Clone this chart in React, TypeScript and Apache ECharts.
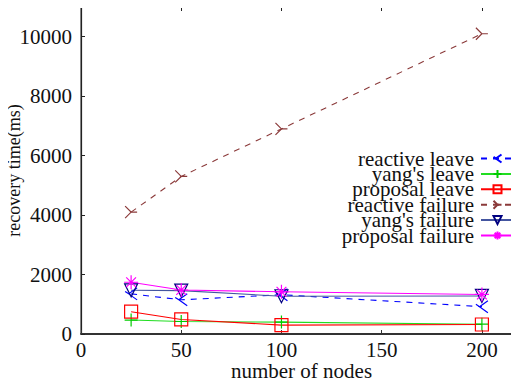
import React, { useEffect, useRef } from "react";
import * as echarts from "echarts";

const nodes = [25, 50, 100, 200];
const reactiveLeave = [1350, 1150, 1320, 920];
const yangsLeave = [470, 420, 400, 330];
const proposalLeave = [750, 490, 300, 320];
const reactiveFailure = [4100, 5300, 6900, 10100];
const yangsFailure = [1470, 1460, 1270, 1280];
const proposalFailure = [1740, 1480, 1420, 1330];

const seriesNames = [
  "reactive leave",
  "yang's leave",
  "proposal leave",
  "reactive failure",
  "yang's failure",
  "proposal failure",
];

const FONT = "Liberation Serif";

export default function App() {
  const ref = useRef<HTMLDivElement>(null);
  useEffect(() => {
    if (!ref.current) return;
    const chart = echarts.init(ref.current, null, { renderer: "svg" });
    const pair = (ys: number[]) => nodes.map((x, i) => [x, ys[i]]);
    const clear = "rgba(255,255,255,0)";
    const mk = (
      name: string,
      ys: number[],
      lineColor: string,
      markColor: string,
      symbol: string,
      size: number,
      dashed: boolean,
      rotate = 0
    ) => ({
      name,
      type: "line",
      data: pair(ys),
      symbol,
      symbolSize: size,
      symbolRotate: rotate,
      symbolKeepAspect: true,
      showAllSymbol: true,
      lineStyle: { color: lineColor, width: 1.1, type: dashed ? [6, 6] : "solid" },
      itemStyle: { color: clear, borderColor: markColor, borderWidth: 1.2 },
      emphasis: { disabled: true },
    });
    const labelStyle = {
      showMaxLabel: false,
      fontFamily: FONT,
      fontSize: 21,
      color: "#111",
      formatter: (v: number) => "{a|" + String(v) + "}",
      rich: { a: { fontFamily: FONT, fontSize: 21, color: "#111" } },
    };
    chart.setOption({
      animation: false,
      backgroundColor: "#ffffff",
      textStyle: { fontFamily: FONT },
      grid: {
        left: 81,
        top: 7,
        right: -3,
        bottom: 52,
        containLabel: false,
        outerBoundsMode: "none",
        show: true,
        borderColor: "#222",
        borderWidth: 1,
      },
      legend: {
        orient: "vertical",
        right: 4,
        top: 148,
        align: "right",
        padding: 0,
        itemGap: -5.6,
        itemWidth: 33,
        itemHeight: 10,
        data: seriesNames,
        textStyle: {
          fontFamily: FONT,
          fontSize: 21,
          color: "#111",
          padding: [0, 2, 0, 0],
        },
      },
      xAxis: [
        {
          type: "value",
          min: 0,
          max: 220,
          interval: 50,
          name: "number of nodes",
          nameLocation: "middle",
          nameGap: 26,
          nameMoveOverlap: false,
          nameTextStyle: { fontFamily: FONT, fontSize: 21, color: "#111" },
          axisLine: { lineStyle: { color: "#333", width: 2 } },
          axisTick: { inside: true, length: 4, lineStyle: { color: "#333" } },
          axisLabel: { ...labelStyle, margin: 5 },
          splitLine: { show: false },
        },
        {
          type: "value",
          position: "top",
          min: 0,
          max: 220,
          interval: 50,
          axisLine: { lineStyle: { color: "#222", width: 1 } },
          axisTick: { inside: true, length: 4, lineStyle: { color: "#222" } },
          axisLabel: { show: false },
          splitLine: { show: false },
        },
      ],
      yAxis: {
        type: "value",
        min: 0,
        max: 11000,
        interval: 2000,
        name: "recovery time(ms)",
        nameLocation: "middle",
        nameGap: 58,
        nameMoveOverlap: false,
        nameTextStyle: { fontFamily: FONT, fontSize: 18, color: "#111" },
        axisLine: { show: true, lineStyle: { color: "#222", width: 1.2 } },
        axisTick: { inside: true, length: 4, lineStyle: { color: "#222" } },
        axisLabel: { ...labelStyle, margin: 9 },
        splitLine: { show: false },
      },
      series: [
        mk(seriesNames[0], reactiveLeave, "#0000ff", "#0000ff",
          "path://M10,0L3,5L10,10M3,5L0,3", 12, true),
        mk(seriesNames[1], yangsLeave, "#22dd22", "#00cc00",
          "path://M0,5L10,5M5,0L5,10", 13, false),
        mk(seriesNames[2], proposalLeave, "#ff0000", "#ff0000", "rect", 13, false),
        mk(seriesNames[3], reactiveFailure, "#8b3a3a", "#8b3a3a",
          "path://M0,0L5,5L0,10M5,5L10,5", 12, true),
        mk(seriesNames[4], yangsFailure, "#4455a0", "#000080", "triangle", 13, false, 180),
        mk(seriesNames[5], proposalFailure, "#ff00ff", "#ff00ff",
          "path://M0,5L10,5M5,0L5,10M1.5,1.5L8.5,8.5M8.5,1.5L1.5,8.5", 14, false),
      ],
    });
    return () => chart.dispose();
  }, []);
  return <div ref={ref} style={{ width: 519, height: 386, margin: -8 }} />;
}
